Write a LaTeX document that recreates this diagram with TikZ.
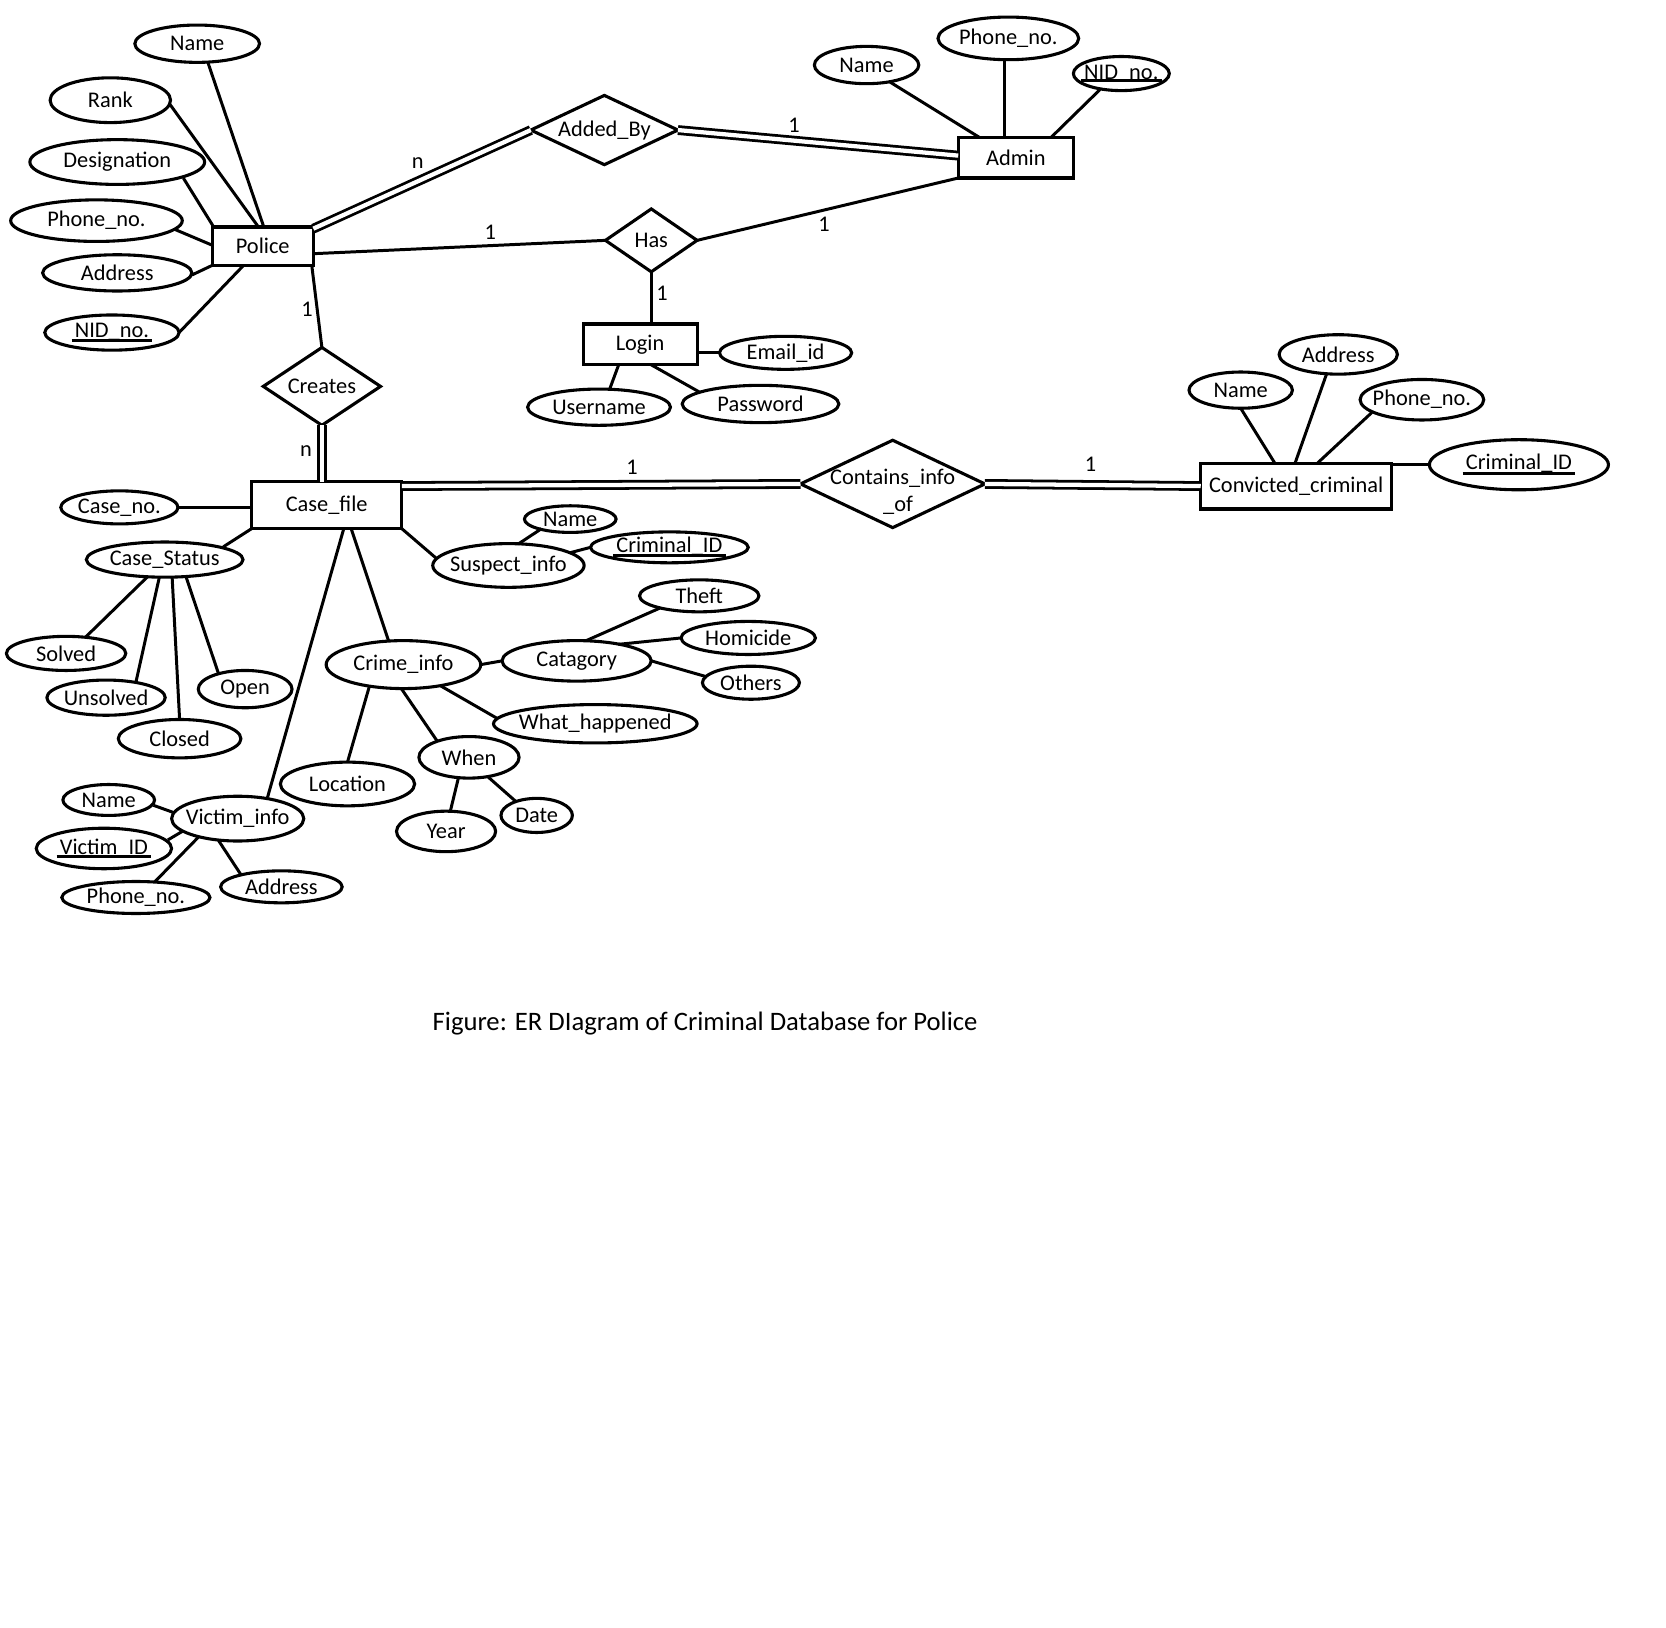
\documentclass[tikz,border=0pt]{standalone}
\usepackage{fontspec}
\setmainfont{Carlito}
\usetikzlibrary{shapes.geometric,calc}
\newcommand{\ulin}[2][-4pt]{\setbox0=\hbox{#2}\rlap{\hspace{-3pt}\rule[#1]{\dimexpr\wd0+6pt\relax}{2.8pt}}\box0}
\newcommand{\attr}[5]{\node[att,minimum width=#4pt,minimum height=#5pt] (#1) at (#2) {\makebox[0pt]{#3}};}
\tikzset{
  ent/.style={draw, rectangle, line width=2.9pt, inner sep=0pt, outer sep=0pt},
  rel/.style={draw, diamond, line width=2.9pt, inner sep=0pt, outer sep=0pt},
  att/.style={draw, ellipse, line width=2.9pt, inner sep=0pt, outer sep=0pt},
  lnk/.style={line width=2.8pt},
  dbl/.style={line width=2.6pt, double, double distance=4pt},
  card/.style={inner sep=0pt}
}
\begin{document}
\begin{tikzpicture}[x=1pt,y=-1pt,font=\fontsize{21}{25}\selectfont]
\fill[white] (0,0) rectangle (1563,1527);
\useasboundingbox (0,0) rectangle (1563,1527);

% entities
\node[ent,minimum width=95pt,minimum height=36pt] (pol) at (246.5,231) {Police};
\node[ent,minimum width=108pt,minimum height=38pt] (adm) at (953,148) {Admin};
\node[ent,minimum width=107pt,minimum height=38pt] (login) at (600.5,323) {Login};
\node[ent,minimum width=141pt,minimum height=44pt] (case) at (306.5,474) {Case\_file};
\node[ent,minimum width=179pt,minimum height=43pt] (conv) at (1216,456) {Convicted\_criminal};

% relationships
\node[rel,minimum width=138pt,minimum height=65pt] (added) at (567,122) {\makebox[0pt]{Added\_By}};
\node[rel,minimum width=86pt,minimum height=59pt] (has) at (611,225.5) {\makebox[0pt]{Has}};
\node[rel,minimum width=110pt,minimum height=73pt] (creates) at (302,362.5) {\makebox[0pt]{Creates}};
\node[rel,minimum width=173pt,minimum height=82pt] (contains) at (837.5,454) {\makebox[0pt]{\raisebox{-8pt}[\height][\depth]{\begin{tabular}{@{}c@{}}Contains\_info\\\hspace*{10pt}\_of\end{tabular}}}};

% police attributes
\attr{pname}{185,41}{Name}{117}{35}
\attr{prank}{103.5,94}{Rank}{113}{42}
\attr{pdes}{110,152}{Designation}{164}{42}
\attr{pphone}{90.5,207}{Phone\_no.}{161}{39}
\attr{paddr}{110,256}{Address}{140}{34}
\attr{pnid}{105,312}{\ulin[-3.5pt]{NID\_no.}}{126}{33}
% admin attributes
\attr{aname}{813,61}{Name}{98}{35}
\attr{aphone}{946,36}{Phone\_no.}{132}{40}
\attr{anid}{1052,69}{\ulin[-3pt]{NID\_no.}}{90}{32}
% login attributes
\attr{email}{737,331}{Email\_id}{124}{31}
\attr{user}{562,382}{Username}{134}{34}
\attr{pass}{713.5,379}{Password}{147}{35}
% case file attributes
\attr{caseno}{112,476}{Case\_no.}{110}{31}
\attr{cstat}{154.5,525}{Case\_Status}{147}{33}
\attr{susp}{477,530.5}{Suspect\_info}{142}{41}
\attr{sname}{535,487}{Name}{86}{25}
\attr{scrim}{628,513.5}{\ulin[-4pt]{Criminal\_ID}}{148}{29}
\attr{crime}{378.5,623.5}{Crime\_info}{145}{45}
\attr{victim}{223,768}{Victim\_info}{124}{42}
% case status values
\attr{solved}{62,613}{Solved}{112}{32}
\attr{unsolved}{99.5,654.5}{Unsolved}{111}{33}
\attr{closed}{168.5,693}{Closed}{115}{36}
\attr{open}{230,646.5}{Open}{88}{35}
% crime info attributes
\attr{cat}{541,620}{Catagory}{140}{38}
\attr{theft}{656,559}{Theft}{112}{30}
\attr{homi}{702,598.5}{Homicide}{126}{31}
\attr{others}{704.5,640.5}{Others}{91}{31}
\attr{what}{558.5,679}{What\_happened}{191}{36}
\attr{when}{440,710.5}{When}{94}{39}
\attr{year}{418.5,780}{Year}{93}{38}
\attr{date}{503.5,765}{Date}{67}{32}
\attr{loc}{326,735.5}{Location}{126}{41}
% victim attributes
\attr{vname}{102,750.5}{Name}{86}{29}
\attr{vid}{97.5,796}{\ulin[-4pt]{Victim\_ID}}{127}{38}
\attr{vphone}{127.5,842}{Phone\_no.}{139}{30}
\attr{vaddr}{264,832}{Address}{114}{30}
% convicted criminal attributes
\attr{caddr}{1255.5,332.5}{Address}{111}{37}
\attr{cname}{1164,366}{Name}{97}{34}
\attr{cphone}{1334,375}{Phone\_no.}{116}{38}
\attr{ccrim}{1425,436}{\ulin[-5.5pt]{Criminal\_ID}}{168}{47}

% police connectors
\draw[lnk] ($(pname)+(10,17.5)$) -- ($(pol)+(1,-18)$);
\draw[lnk] ($(prank)+(56,4)$) -- ($(pol)+(-4,-18)$);
\draw[lnk] ($(pdes)+(62,15)$) -- ($(pol)+(-46,-18)$);
\draw[lnk] ($(pphone)+(73,8)$) -- ($(pol)+(-47.5,-1)$);
\draw[lnk] ($(paddr)+(70,2)$) -- ($(pol)+(-47.5,18)$);
\draw[lnk] ($(pnid)+(63,0)$) -- ($(pol)+(-18,18)$);
% admin connectors
\draw[lnk] ($(aname)+(22,16)$) -- ($(adm)+(-34,-19)$);
\draw[lnk] ($(aphone)+(-4,20)$) -- ($(adm)+(-11,-19)$);
\draw[lnk] ($(anid)+(-20,15)$) -- ($(adm)+(33,-19)$);
% relationship connectors
\draw[dbl] ($(pol.north east)+(0,1.5)$) -- (added.west);
\draw[dbl] (added.east) -- ($(adm.west)+(0,-2)$);
\draw[lnk] ($(pol)+(47.5,7)$) -- (has.west);
\draw[lnk] (has.east) -- (adm.south west);
\draw[lnk] (has.south) -- ($(login.north)+(10.5,0)$);
\draw[lnk] ($(pol)+(46,18)$) -- (creates.north);
\draw[dbl] (creates.south) -- ($(case.north)+(-4.5,0)$);
\draw[dbl] ($(case.north east)+(0,4)$) -- (contains.west);
\draw[dbl] (contains.east) -- (conv.west);
% login connectors
\draw[lnk] ($(login)+(53.5,8)$) -- (email.west);
\draw[lnk] ($(login)+(-20,19)$) -- ($(user)+(10,-17)$);
\draw[lnk] ($(login)+(10,19)$) -- ($(pass)+(-57,-11)$);
% case file connectors
\draw[lnk] (caseno.east) -- ($(case)+(-70.5,2)$);
\draw[lnk] ($(cstat)+(55,-12)$) -- (case.south west);
\draw[lnk] (case.south east) -- ($(susp)+(-68,-7)$);
\draw[lnk] ($(sname)+(-27,9)$) -- ($(susp)+(9,-20)$);
\draw[lnk] ($(susp)+(58,-12)$) -- (scrim.west);
\draw[lnk] ($(case)+(23,22)$) -- ($(crime)+(-14,-22.5)$);
\draw[lnk] ($(case)+(16,22)$) -- ($(victim)+(28,-20)$);
% case status connectors
\draw[lnk] ($(cstat)+(-16,16)$) -- ($(solved)+(18,-15)$);
\draw[lnk] ($(cstat)+(-5,16.5)$) -- ($(unsolved)+(28,-14.5)$);
\draw[lnk] ($(cstat)+(7,16.5)$) -- (closed.north);
\draw[lnk] ($(cstat)+(20,16)$) -- ($(open)+(-25,-14.5)$);
% crime info connectors
\draw[lnk] (crime.east) -- (cat.west);
\draw[lnk] ($(cat)+(9,-19)$) -- ($(theft)+(-37,11.5)$);
\draw[lnk] ($(cat)+(39,-15.5)$) -- (homi.west);
\draw[lnk] (cat.east) -- ($(others)+(-43,-6)$);
\draw[lnk] ($(crime)+(35,20)$) -- ($(what)+(-92,-5)$);
\draw[lnk] ($(crime)+(-2,22.5)$) -- ($(when)+(-30,-15.5)$);
\draw[lnk] ($(crime)+(-32,20.5)$) -- (loc.north);
\draw[lnk] ($(when)+(-10,19.5)$) -- ($(year)+(4,-19)$);
\draw[lnk] ($(when)+(18,18.5)$) -- ($(date)+(-20,-13.5)$);
% victim connectors
\draw[lnk] ($(vname)+(42,5)$) -- ($(victim)+(-61,-6)$);
\draw[lnk] ($(vid)+(60,-8)$) -- ($(victim)+(-52,12)$);
\draw[lnk] ($(vphone)+(18,-15)$) -- ($(victim)+(-37,17.5)$);
\draw[lnk] ($(vaddr)+(-38,-11.5)$) -- ($(victim)+(-18,20.5)$);
% convicted criminal connectors
\draw[lnk] ($(conv)+(-20,-21.5)$) -- (cname.south);
\draw[lnk] ($(conv)+(-1,-21.5)$) -- ($(caddr)+(-11,18.5)$);
\draw[lnk] ($(conv)+(20,-21.5)$) -- ($(cphone)+(-47,12)$);
\draw[lnk] ($(conv)+(89.5,-20)$) -- (ccrim.west);

% cardinalities
\node[card] (cn1) at (392,153) {n};
\node[card] (c1a) at (745,118) {1};
\node[card] (c1b) at (460,218) {1};
\node[card] (c1c) at (773,210) {1};
\node[card] (c1d) at (621,275) {1};
\node[card] (c1e) at (288,290) {1};
\node[card] (cn2) at (287,423) {n};
\node[card] (c1f) at (593,438) {1};
\node[card] (c1g) at (1023,436) {1};

% caption
\node[inner sep=0pt] (cap) at (661.5,960) {\fontsize{25}{30}\selectfont Figure: ER DIagram of Criminal Database for Police};
\end{tikzpicture}
\end{document}
